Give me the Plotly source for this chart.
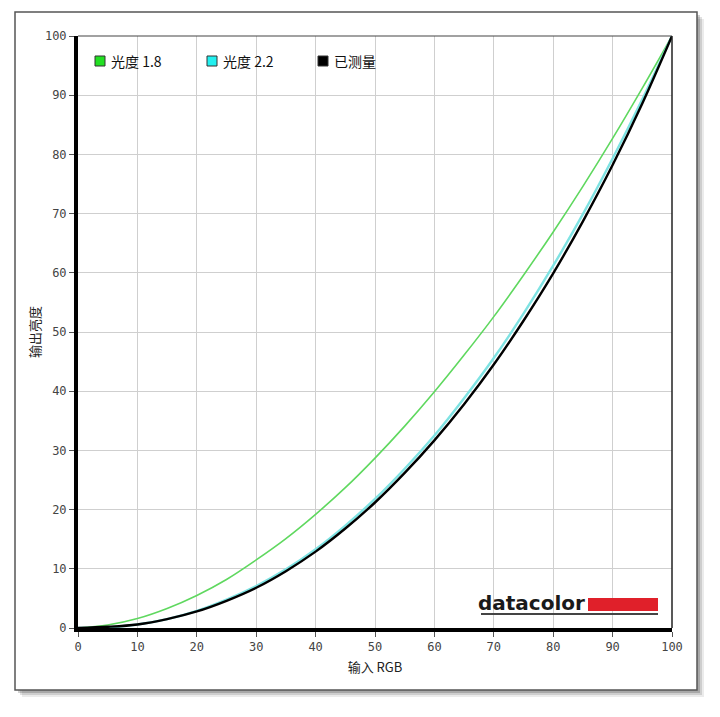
import plotly.graph_objects as go

# input RGB (%) sample points
rgb_in = [0, 5, 10, 15, 20, 25, 30, 35, 40, 45, 50,
          55, 60, 65, 70, 75, 80, 85, 90, 95, 100]

# output luminance (%)
gamma_18 = [0, 0.5, 1.6, 3.3, 5.5, 8.2, 11.5, 15.1, 19.2, 23.7, 28.7,
            34.1, 39.9, 46.1, 52.6, 59.6, 66.9, 74.6, 82.7, 91.2, 100]
gamma_22 = [0, 0.1, 0.6, 1.5, 2.9, 4.8, 7.1, 9.9, 13.3, 17.3, 21.8,
            26.9, 32.5, 38.8, 45.6, 53.1, 61.2, 69.9, 79.3, 89.3, 100]
measured = [0, 0.2, 0.6, 1.5, 2.8, 4.6, 6.8, 9.6, 12.9, 16.8, 21.2,
            26.2, 31.7, 37.8, 44.5, 51.9, 59.9, 68.7, 78.2, 88.6, 100]

series_names = ['光度 1.8', '光度 2.2', '已测量']
line_colors = ['#5fd85f', '#7fe3e3', '#000000']
legend_colors = ['#22e022', '#22f0f0', '#000000']
tick_vals = list(range(0, 101, 10))

# plot area is 594 x 592 px; helpers turn page pixels into paper coords
PX_L, PX_T, PW, PH = 78, 36, 594, 592


def px(x):
    return (x - PX_L) / PW


def py(y):
    return (PX_T + PH - y) / PH


fig = go.Figure()

# the curves themselves
for ys, color, width in zip([gamma_18, gamma_22, measured], line_colors, [1.6, 2.4, 2.4]):
    fig.add_scatter(x=rgb_in, y=ys, mode='lines', line_shape='spline',
                    line=dict(color=color, width=width), showlegend=False,
                    hoverinfo='skip')

axis_common = dict(
    range=[0, 100], tickvals=tick_vals, showgrid=True, gridcolor='#cfcfcf',
    gridwidth=1, zeroline=False, showline=True, linecolor='#000000', linewidth=4,
    ticks='outside', ticklen=5, tickcolor='#555555', tickwidth=1,
    tickfont=dict(family='DejaVu Sans Mono', size=12, color='#444444'),
)

# page body has an 8px margin, so the figure is a bit smaller than the window
fig.update_layout(
    width=704, height=701,
    margin=dict(l=PX_L - 8, r=704 - (PX_L - 8) - PW, t=PX_T - 8, b=701 - (PX_T - 8) - PH),
    paper_bgcolor='white', plot_bgcolor='rgba(0,0,0,0)',
    showlegend=False,
    xaxis=dict(axis_common, title=dict(text='输入 RGB', standoff=10,
               font=dict(family='Noto Sans CJK SC', size=13, color='#222222'))),
    yaxis=dict(axis_common, title=dict(text='输出亮度', standoff=2,
               font=dict(family='Noto Sans CJK SC', size=13, color='#222222'))),
)

# hand-made legend: bordered squares + labels
legend_x = [95, 207, 318]
for name, color, lx in zip(series_names, legend_colors, legend_x):
    fig.add_shape(type='rect', xref='paper', yref='paper',
                  x0=px(lx), x1=px(lx + 10), y0=py(66), y1=py(56),
                  line=dict(color='#333333', width=1), fillcolor=color)
    fig.add_annotation(text=name, xref='paper', yref='paper',
                       x=px(lx + 14), y=py(61), xanchor='left', yanchor='middle',
                       showarrow=False,
                       font=dict(family='Noto Sans CJK SC', size=14, color='#111111'))

# outer frame with a soft drop shadow
for off, alpha in [(7, 0.08), (5, 0.12), (3, 0.18)]:
    fig.add_shape(type='rect', xref='paper', yref='paper', layer='below',
                  x0=px(15 + off), x1=px(697 + off), y0=py(690 + off), y1=py(12 + off),
                  line_width=0, fillcolor=f'rgba(0,0,0,{alpha})')
fig.add_shape(type='rect', xref='paper', yref='paper', layer='below',
              x0=px(15), x1=px(697), y0=py(690), y1=py(12),
              line=dict(color='#555555', width=1.5), fillcolor='white')

# thin top and right borders of the plot area
fig.add_shape(type='line', xref='paper', yref='paper', x0=0, x1=1, y0=1, y1=1,
              line=dict(color='#444444', width=1.2))
fig.add_shape(type='line', xref='paper', yref='paper', x0=1, x1=1, y0=0, y1=1,
              line=dict(color='#222222', width=1.5))

# datacolor logo
fig.add_annotation(text='<b>datacolor</b>', xref='paper', yref='paper',
                   x=px(587), y=py(603), xanchor='right', yanchor='middle',
                   showarrow=False,
                   font=dict(family='DejaVu Sans', size=20, color='#1a1a1a'))
fig.add_shape(type='rect', xref='paper', yref='paper',
              x0=px(588), x1=px(658), y0=py(611), y1=py(598),
              line_width=0, fillcolor='#e0202a')
fig.add_shape(type='line', xref='paper', yref='paper',
              x0=px(481), x1=px(658), y0=py(614), y1=py(614),
              line=dict(color='#444444', width=2))

fig.write_html('out.html')
